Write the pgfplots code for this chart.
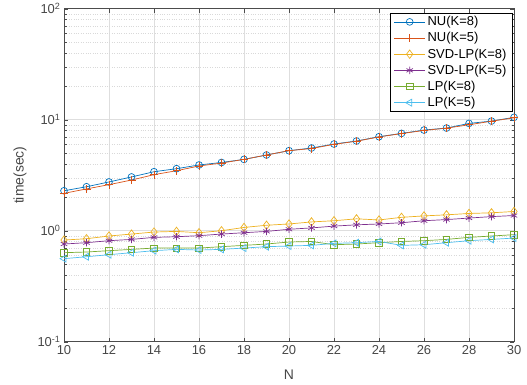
\documentclass[border=0pt]{standalone}
\usepackage{pgfplots}
\pgfplotsset{compat=1.18}
\usepackage{fontspec}
\setmainfont{Liberation Sans}
\definecolor{c1}{rgb}{0,0.447,0.741}
\definecolor{c2}{rgb}{0.85,0.325,0.098}
\definecolor{c3}{rgb}{0.929,0.694,0.125}
\definecolor{c4}{rgb}{0.494,0.184,0.556}
\definecolor{c5}{rgb}{0.466,0.674,0.188}
\definecolor{c6}{rgb}{0.301,0.745,0.933}
\definecolor{txt}{rgb}{0.28,0.28,0.28}
\begin{document}
\begin{tikzpicture}
\begin{axis}[
  scale only axis, width=450bp, height=333bp,
  xmin=10, xmax=30, ymode=log, ymin=0.1, ymax=100,
  xtick={10,12,...,30},
  ytick={0.1,1,10,100},
  yticklabels={10\textsuperscript{-1},10\textsuperscript{0},10\textsuperscript{1},10\textsuperscript{2}},
  /pgf/number format/assume math mode=true,
  ticklabel style={font=\fontsize{13}{15}\selectfont, text=txt},
  xlabel={N}, ylabel={time(sec)},
  every axis x label/.style={at={(axis description cs:0.5,0)}, yshift=-33bp, anchor=center, font=\fontsize{14}{16}\selectfont, text=txt},
  every axis y label/.style={at={(axis description cs:0,0.5)}, xshift=-44bp, rotate=90, anchor=center, font=\fontsize{14}{16}\selectfont, text=txt},
  grid=both,
  major grid style={black!13, line width=0.5pt},
  minor grid style={black!15, dotted, line width=0.5pt},
  tick align=inside,
  major tick length=4bp, minor tick length=2.5bp,
  axis line style={black!70, line width=0.6pt},
  every tick/.style={black!70},
  legend style={at={(0.997,0.988)}, anchor=north east, font=\fontsize{13}{15}\selectfont, draw=black, line width=0.5pt, fill=white, row sep=1.3pt, inner xsep=4pt, inner ysep=1.5pt},
  legend cell align=left,
  legend image code/.code={\draw[mark repeat=2,mark phase=2] plot coordinates {(0cm,0cm) (0.55cm,0cm) (1.1cm,0cm)};},
  every axis plot/.append style={line width=0.7pt, mark size=3.4bp, mark options={solid, fill=none}},
]
\addplot[c1, mark=o] coordinates {(10,2.29)(11,2.49)(12,2.75)(13,3.05)(14,3.40)(15,3.62)(16,3.91)(17,4.12)(18,4.39)(19,4.81)(20,5.26)(21,5.56)(22,6.04)(23,6.43)(24,7.03)(25,7.53)(26,8.07)(27,8.41)(28,9.26)(29,9.72)(30,10.5)};
\addlegendentry{NU(K=8)}
\addplot[c2, mark=+, mark size=4bp] coordinates {(10,2.17)(11,2.38)(12,2.60)(13,2.86)(14,3.20)(15,3.47)(16,3.83)(17,4.07)(18,4.39)(19,4.81)(20,5.26)(21,5.50)(22,6.00)(23,6.40)(24,7.00)(25,7.50)(26,8.00)(27,8.40)(28,9.00)(29,9.70)(30,10.4)};
\addlegendentry{NU(K=5)}
\addplot[c3, mark=diamond, mark size=4.2bp] coordinates {(10,0.824)(11,0.847)(12,0.896)(13,0.933)(14,0.973)(15,0.986)(16,0.959)(17,1.00)(18,1.07)(19,1.12)(20,1.15)(21,1.20)(22,1.23)(23,1.28)(24,1.25)(25,1.32)(26,1.36)(27,1.39)(28,1.43)(29,1.45)(30,1.49)};
\addlegendentry{SVD-LP(K=8)}
\addplot[c4, mark=asterisk, mark size=3.7bp] coordinates {(10,0.759)(11,0.780)(12,0.813)(13,0.835)(14,0.871)(15,0.883)(16,0.902)(17,0.933)(18,0.959)(19,0.986)(20,1.03)(21,1.06)(22,1.10)(23,1.13)(24,1.15)(25,1.18)(26,1.23)(27,1.26)(28,1.30)(29,1.34)(30,1.37)};
\addlegendentry{SVD-LP(K=5)}
\addplot[c5, mark=square, mark size=3.2bp] coordinates {(10,0.634)(11,0.643)(12,0.661)(13,0.679)(14,0.698)(15,0.698)(16,0.698)(17,0.718)(18,0.738)(19,0.759)(20,0.791)(21,0.800)(22,0.748)(23,0.759)(24,0.780)(25,0.800)(26,0.813)(27,0.835)(28,0.871)(29,0.896)(30,0.921)};
\addlegendentry{LP(K=8)}
\addplot[c6, mark=triangle, mark size=4bp, mark options={rotate=90}] coordinates {(10,0.560)(11,0.583)(12,0.608)(13,0.634)(14,0.661)(15,0.679)(16,0.670)(17,0.679)(18,0.698)(19,0.718)(20,0.728)(21,0.738)(22,0.769)(23,0.780)(24,0.800)(25,0.738)(26,0.748)(27,0.780)(28,0.813)(29,0.835)(30,0.859)};
\addlegendentry{LP(K=5)}
\end{axis}
\path (current axis.south west) ++(-64bp,-43bp) (current axis.north east) ++(13bp,8bp);
\end{tikzpicture}
\end{document}
